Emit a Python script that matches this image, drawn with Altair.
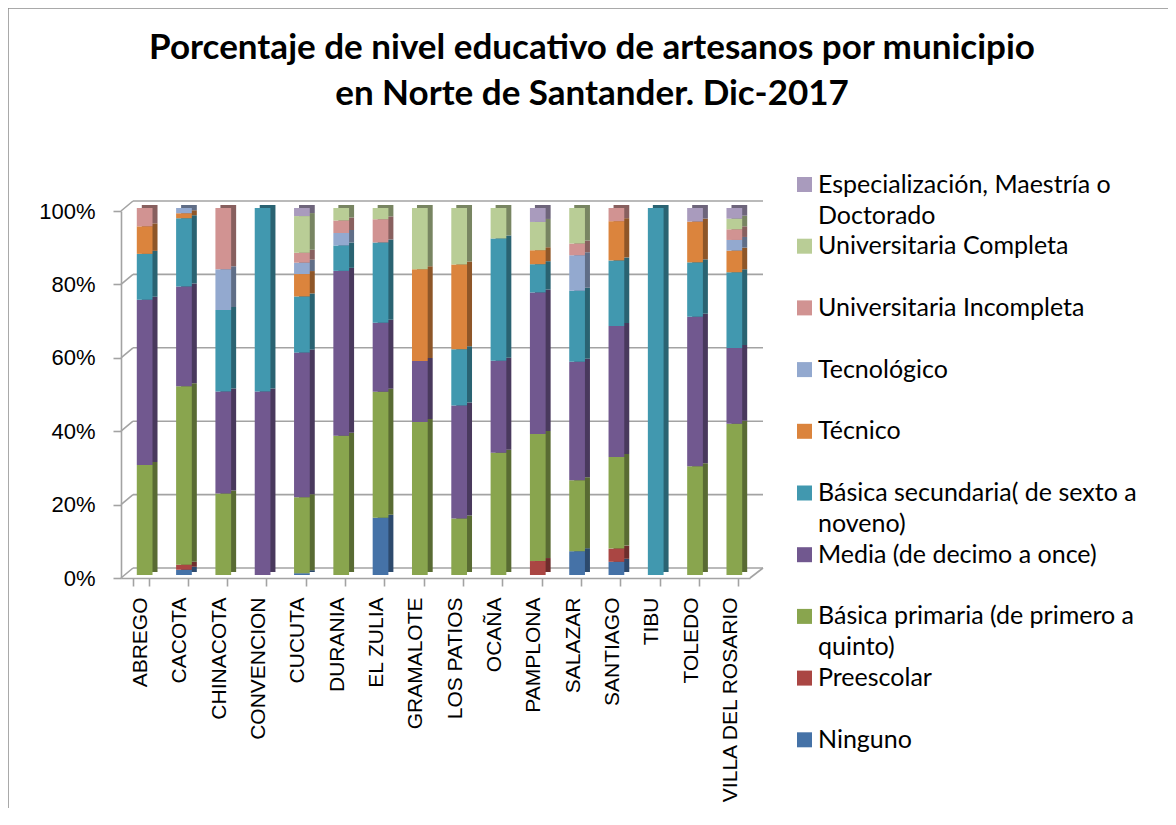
import altair as alt
import pandas as pd

municipios = ["ABREGO", "CACOTA", "CHINACOTA", "CONVENCION", "CUCUTA", "DURANIA",
              "EL ZULIA", "GRAMALOTE", "LOS PATIOS", "OCAÑA", "PAMPLONA", "SALAZAR",
              "SANTIAGO", "TIBU", "TOLEDO", "VILLA DEL ROSARIO"]

niveles = ["Ninguno", "Preescolar", "Básica primaria (de primero a quinto)",
           "Media (de decimo a once)", "Básica secundaria( de sexto a noveno)",
           "Técnico", "Tecnológico", "Universitaria Incompleta",
           "Universitaria Completa", "Especialización, Maestría o Doctorado"]

# percentages per level, one value per municipio (same order as municipios)
ninguno = [0, 1.4, 0, 0, 0.5, 0, 15.6, 0, 0, 0, 0, 6.5, 3.6, 0, 0, 0]
preescolar = [0, 1.4, 0, 0, 0, 0, 0, 0, 0, 0, 3.8, 0, 3.6, 0, 0, 0]
basica_primaria = [30, 48.6, 22.2, 0, 20.7, 37.9, 34.4, 41.7, 15.4, 33.3, 34.6, 19.4, 25, 0, 29.6, 41.2]
media = [45, 27.1, 27.8, 50, 39.4, 44.8, 18.8, 16.7, 30.8, 25, 38.5, 32.3, 35.7, 0, 40.7, 20.6]
basica_secundaria = [12.5, 18.6, 22.2, 50, 15.3, 6.9, 21.9, 0, 15.4, 33.3, 7.7, 19.4, 17.9, 100, 14.8, 20.6]
tecnico = [7.5, 1.4, 0, 0, 6.1, 0, 0, 25, 23.1, 0, 3.8, 0, 10.7, 0, 11.1, 5.9]
tecnologico = [0, 1.4, 11.1, 0, 3.1, 3.4, 0, 0, 0, 0, 0, 9.7, 0, 0, 0, 2.9]
univ_incompleta = [5, 0, 16.7, 0, 2.7, 3.4, 6.3, 0, 0, 0, 0, 3.2, 3.6, 0, 0, 2.9]
univ_completa = [0, 0, 0, 0, 10, 3.4, 3.1, 16.7, 15.4, 8.3, 7.7, 9.7, 0, 0, 0, 2.9]
especializacion = [0, 0, 0, 0, 2.2, 0, 0, 0, 0, 0, 3.8, 0, 0, 0, 3.7, 2.9]

series = [ninguno, preescolar, basica_primaria, media, basica_secundaria,
          tecnico, tecnologico, univ_incompleta, univ_completa, especializacion]

colores = ["#4572a7", "#aa4643", "#89a54e", "#71588f", "#4198af",
           "#db843d", "#93a9cf", "#d19392", "#b9cd96", "#a99bbd"]
sombras = ["#2d4a6d", "#6e2d2c", "#596b33", "#49395d", "#2a6372",
           "#8e5628", "#606e87", "#88605f", "#788562", "#6e657b"]

# legend label lines (wrapped like the original)
etiquetas = {
    "Especialización, Maestría o Doctorado": ["Especialización, Maestría o", "Doctorado"],
    "Universitaria Completa": ["Universitaria Completa", ""],
    "Universitaria Incompleta": ["Universitaria Incompleta", ""],
    "Tecnológico": ["Tecnológico", ""],
    "Técnico": ["\u00a0Técnico", ""],
    "Básica secundaria( de sexto a noveno)": ["Básica secundaria( de sexto a", "noveno)"],
    "Media (de decimo a once)": ["\u00a0Media (de decimo a once)", ""],
    "Básica primaria (de primero a quinto)": ["Básica primaria (de primero a", "quinto)"],
    "Preescolar": ["Preescolar", ""],
    "Ninguno": ["Ninguno", ""],
}

ticks_y = [0, 0.2, 0.4, 0.6, 0.8, 1.0]

rows = []
for i, (nivel, vals) in enumerate(zip(niveles, series)):
    for m, v in zip(municipios, vals):
        rows.append({"municipio": m, "nivel": nivel, "orden": i, "valor": v})
df = pd.DataFrame(rows)
grid_df = pd.DataFrame({"v": ticks_y})
one_df = pd.DataFrame({"a": [0]})


def arr(lines):
    return "[" + ", ".join("'" + s + "'" for s in lines) + "]"


expr = "datum.label"
for k, lines in etiquetas.items():
    expr = f"datum.label == '{k}' ? {arr(lines)} : ({expr})"

W, H = 629, 367
gris = "#a3a3a3"
yscale = alt.Scale(domain=[0, 1], nice=False)
xscale = alt.Scale(paddingInner=0.6, paddingOuter=0.3)

yaxis = alt.Axis(title=None, format="%", values=ticks_y, grid=False,
                 labelFont="Liberation Sans", labelFontSize=22, labelColor="black",
                 labelPadding=18, tickSize=8, tickColor=gris, tickWidth=1.6,
                 domainColor=gris, domainWidth=1.6)
xaxis = alt.Axis(title=None, labelAngle=-90, labelFont="Liberation Sans",
                 labelFontSize=21, labelColor="black", labelPadding=11,
                 tickBand="extent", tickSize=8, tickColor=gris, tickWidth=1.6,
                 domainColor=gris, domainWidth=1.6, labelLimit=300)

grid = alt.Chart(grid_df).mark_rule(yOffset=-10, color=gris, strokeWidth=1.6).encode(
    y=alt.Y("v:Q", scale=yscale, axis=yaxis),
    x=alt.value(12), x2=alt.value(642))

conn = alt.Chart(grid_df).mark_rule(y2Offset=-10, color=gris, strokeWidth=1.6).encode(
    y=alt.Y("v:Q", scale=yscale, axis=yaxis), y2=alt.Y2("v"),
    x=alt.value(0), x2=alt.value(12))

floor_r = alt.Chart(grid_df).transform_filter("datum.v == 0").mark_rule(
    y2Offset=-10, color=gris, strokeWidth=1.6).encode(
    y=alt.Y("v:Q", scale=yscale, axis=yaxis), y2=alt.Y2("v"),
    x=alt.value(W), x2=alt.value(642))

frame_l = alt.Chart(one_df).mark_rule(color="#8c8c8c", strokeWidth=1.5).encode(
    x=alt.value(-113), y=alt.value(-203), y2=alt.value(620))
frame_t = alt.Chart(one_df).mark_rule(color="#8c8c8c", strokeWidth=1.5).encode(
    x=alt.value(-113), x2=alt.value(1047), y=alt.value(-203))

shadow = alt.Chart(df).mark_bar(xOffset=9, yOffset=-6, y2Offset=-6).encode(
    x=alt.X("municipio:N", sort=municipios, scale=xscale, axis=xaxis),
    y=alt.Y("valor:Q", stack="normalize", scale=yscale, axis=yaxis),
    color=alt.Color("nivel:N", scale=alt.Scale(domain=niveles, range=sombras), legend=None),
    order=alt.Order("orden:Q", sort="ascending"))

front = alt.Chart(df).mark_bar(xOffset=4, yOffset=-3, y2Offset=-3).encode(
    x=alt.X("municipio:N", sort=municipios, scale=xscale, axis=xaxis),
    y=alt.Y("valor:Q", stack="normalize", scale=yscale, axis=yaxis),
    color=alt.Color("nivel:N",
                    scale=alt.Scale(domain=niveles[::-1], range=colores[::-1]),
                    legend=alt.Legend(title=None, orient="none", direction="vertical",
                                      legendX=671, legendY=-39, padding=0,
                                      symbolType="square", symbolSize=225,
                                      symbolStrokeWidth=0, labelFont="Lato",
                                      labelFontSize=25, labelColor="black",
                                      labelOffset=1, labelLimit=450, rowPadding=4.7,
                                      labelBaseline="middle", labelExpr=expr)),
    order=alt.Order("orden:Q", sort="ascending"))

chart = alt.layer(grid, conn, floor_r, frame_l, frame_t, shadow, front).resolve_scale(
    color="independent"
).properties(
    width=W, height=H,
    autosize=alt.AutoSizeParams(type="none"),
    padding={"left": 113, "top": 203, "right": 418, "bottom": 230},
    title=alt.Title(text=["Porcentaje de nivel educativo de artesanos por municipio",
                          "en Norte de Santander. Dic-2017"],
                    font="Lato", fontSize=35, fontWeight="bold", color="black",
                    anchor="middle", dx=156.5, offset=0, dy=105, lineHeight=46),
    background="white",
).configure(
    view=alt.ViewConfig(stroke=None),
    style={"guide-label": {"lineHeight": 31}}
)

chart.save("out.html", embed_options={"renderer": "svg", "actions": False})
